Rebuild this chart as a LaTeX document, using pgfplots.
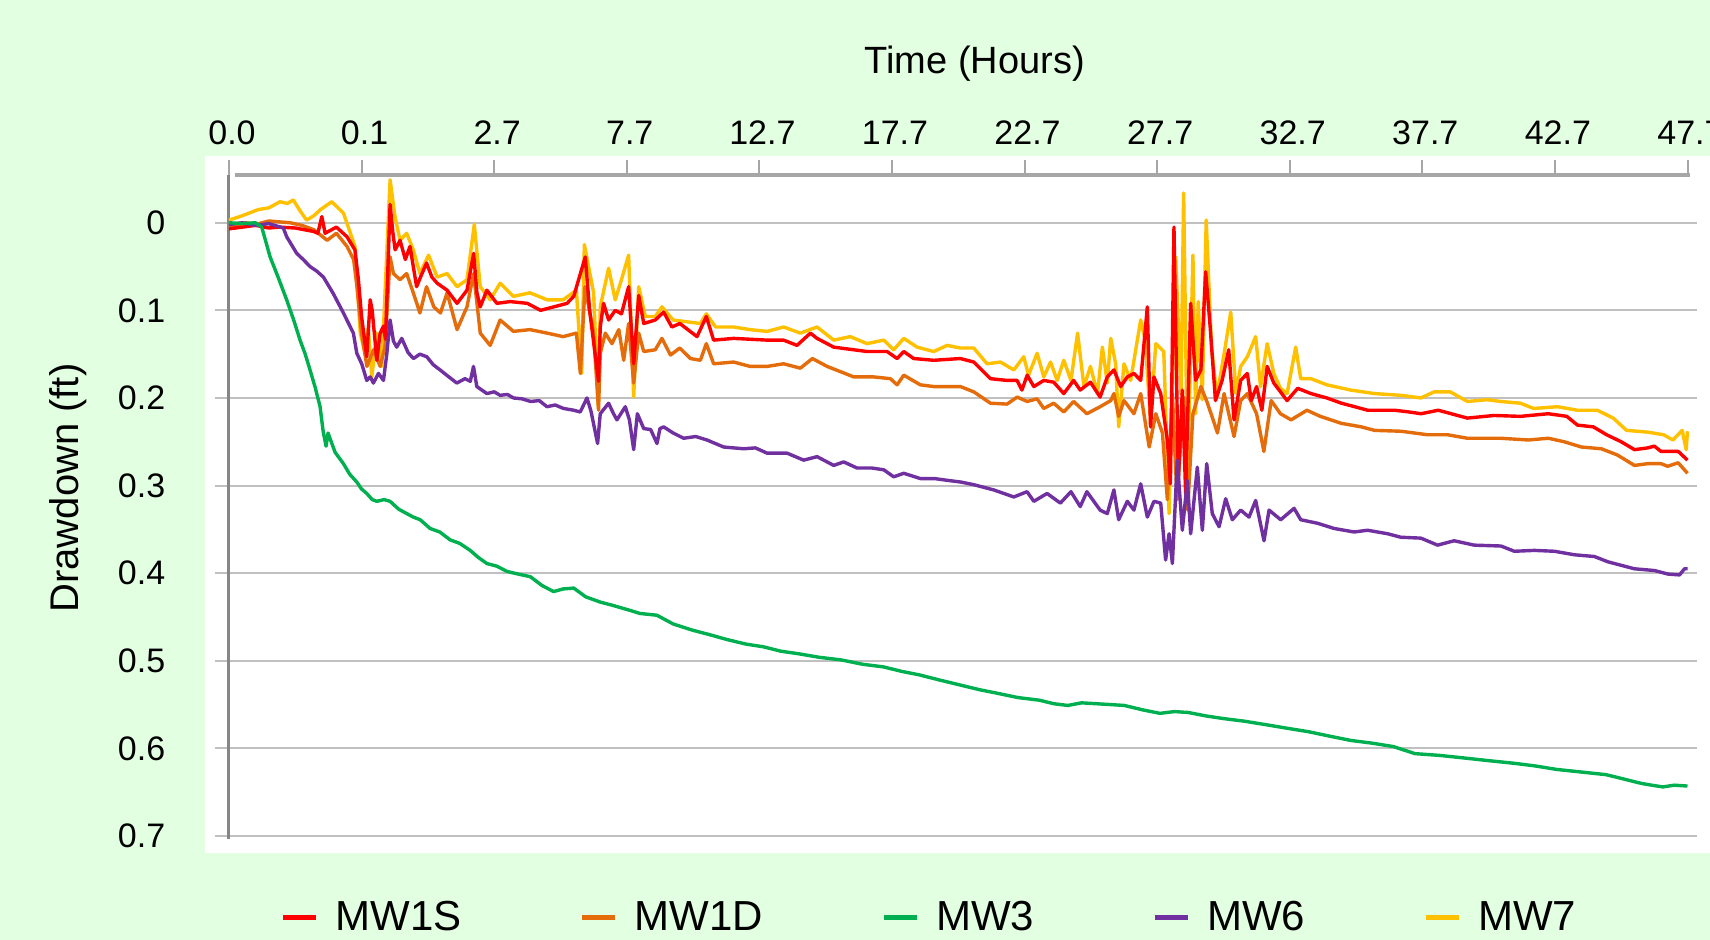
\documentclass[border=0pt]{standalone}
\usepackage{fontspec}
\setmainfont{Liberation Sans}
\usepackage{pgfplots}
\pgfplotsset{compat=1.18}
\definecolor{bgc}{RGB}{226,255,226}
\definecolor{gridc}{RGB}{192,192,192}
\definecolor{axl}{RGB}{134,134,134}
\definecolor{axt}{RGB}{166,166,166}
\definecolor{cas}{RGB}{255,0,0}
\definecolor{cad}{RGB}{228,108,10}
\definecolor{cb}{RGB}{0,176,80}
\definecolor{cc}{RGB}{112,48,160}
\definecolor{cd}{RGB}{255,192,0}
\begin{document}
\begin{tikzpicture}
\fill[bgc] (0,0) rectangle (855pt,470pt);
\fill[white] (102.5pt,43.5pt) rectangle (855pt,392pt);
\begin{axis}[
  at={(114.5pt,52pt)}, anchor=south west,
  scale only axis, width=729.25pt, height=330.5pt,
  xmin=0, xmax=11, ymin=-0.0545, ymax=0.7, y dir=reverse,
  axis line style={draw=none},
  clip=false,
  xtick={0,1,2,3,4,5,6,7,8,9,10,11},
  xticklabels={0.0,0.1,2.7,7.7,12.7,17.7,22.7,27.7,32.7,37.7,42.7,47.7},
  ytick={0,0.1,0.2,0.3,0.4,0.5,0.6,0.7},
  yticklabels={0,0.1,0.2,0.3,0.4,0.5,0.6,0.7},
  tick align=outside,
  xtick pos=right, xticklabel pos=right,
  ytick pos=left,
  major tick length=7.5pt,
  xtick style={axt, line width=1pt},
  ytick style={draw=none},
  tick label style={font=\fontsize{17pt}{20pt}\selectfont, inner sep=0pt},
  /pgf/number format/assume math mode=true,
  xticklabel style={anchor=base, yshift=7.8pt, xshift=1.5pt},
  yticklabel style={anchor=east, xshift=-24.2pt},
  xlabel={Time (Hours)},
  xlabel style={at={(axis description cs:0.5112,1.169)}, anchor=center, font=\fontsize{19pt}{23pt}\selectfont},
  ylabel={Drawdown (ft)},
  ylabel style={at={(axis description cs:-0.1104,0.5265)}, anchor=center, font=\fontsize{20pt}{24pt}\selectfont},
  legend columns=5,
  legend style={draw=none, fill=none, at={(axis description cs:0.03565,-0.1235)}, anchor=west, inner sep=0pt, outer sep=0pt,
    font=\fontsize{21pt}{25pt}\selectfont, nodes={inner sep=0pt},
    /tikz/every even column/.append style={column sep=59pt},
    /tikz/every odd column/.append style={column sep=8.5pt}},
  legend image code/.code={\draw[#1, line width=2.5pt] (0pt,0pt) -- (16.5pt,0pt);},
  every axis plot/.append style={line width=1.7pt, line join=round},
]
\pgfplotsinvokeforeach{0,0.1,0.2,0.3,0.4,0.5,0.6,0.7}{\draw[gridc, line width=1pt] (axis cs:-0.106,#1) -- (axis cs:11.07,#1);}
\draw[axt, line width=1.7pt] (axis cs:0.045,-0.0545) -- (axis cs:11.02,-0.0545);
\draw[axl, line width=1.5pt] (axis cs:0,-0.0545) -- (axis cs:0,0.703);

% MW7
\addplot[cd, forget plot] coordinates {
(0,-0.003) (0.1,-0.008) (0.22,-0.015) (0.3,-0.017) (0.385,-0.024) (0.44,-0.022) (0.485,-0.026) (0.53,-0.015) (0.585,-0.003) (0.64,-0.008) (0.69,-0.015) (0.775,-0.024) (0.863,-0.011) (0.95,0.027) (0.99,0.126) (1.026,0.149) (1.05,0.120) (1.077,0.176) (1.115,0.126) (1.152,0.164) (1.215,-0.049) (1.253,-0.006) (1.29,0.020) (1.34,0.012) (1.39,0.031) (1.44,0.058) (1.505,0.037) (1.57,0.062) (1.645,0.058) (1.72,0.073) (1.795,0.065) (1.85,0.002) (1.895,0.073) (1.97,0.088) (2.045,0.069) (2.145,0.084) (2.27,0.080) (2.40,0.088) (2.52,0.088) (2.62,0.077) (2.66,0.172) (2.68,0.025) (2.75,0.080) (2.785,0.210) (2.80,0.096) (2.863,0.052) (2.913,0.088) (2.96,0.065) (3.014,0.037) (3.052,0.199) (3.09,0.073) (3.14,0.107) (3.215,0.107) (3.265,0.096) (3.35,0.111) (3.45,0.113) (3.555,0.115) (3.60,0.104) (3.67,0.119) (3.806,0.119) (3.93,0.122) (4.058,0.124) (4.183,0.119) (4.309,0.126) (4.435,0.119) (4.561,0.134) (4.686,0.130) (4.812,0.138) (4.938,0.134) (5.013,0.145) (5.089,0.132) (5.19,0.142) (5.315,0.147) (5.416,0.140) (5.516,0.143) (5.617,0.143) (5.717,0.161) (5.818,0.159) (5.919,0.168) (5.994,0.153) (6.03,0.174) (6.095,0.149) (6.145,0.176) (6.196,0.159) (6.246,0.180) (6.296,0.157) (6.35,0.180) (6.40,0.126) (6.448,0.187) (6.497,0.164) (6.55,0.195) (6.587,0.142) (6.624,0.183) (6.65,0.132) (6.687,0.161) (6.71,0.233) (6.75,0.161) (6.80,0.180) (6.876,0.111) (6.91,0.134) (6.95,0.225) (6.99,0.138) (7.05,0.147) (7.09,0.332) (7.14,0.039) (7.18,0.195) (7.20,-0.034) (7.23,0.294) (7.27,0.037) (7.29,0.218) (7.31,0.090) (7.34,0.202) (7.37,-0.003) (7.41,0.142) (7.45,0.199) (7.51,0.145) (7.555,0.102) (7.594,0.195) (7.63,0.164) (7.68,0.153) (7.743,0.130) (7.78,0.187) (7.83,0.138) (7.88,0.172) (7.93,0.189) (7.98,0.195) (8.045,0.142) (8.083,0.178) (8.16,0.178) (8.28,0.185) (8.46,0.191) (8.64,0.195) (8.84,0.197) (8.99,0.200) (9.09,0.193) (9.21,0.193) (9.34,0.204) (9.49,0.202) (9.59,0.204) (9.74,0.206) (9.84,0.212) (10.02,0.210) (10.17,0.214) (10.32,0.214) (10.44,0.223) (10.54,0.237) (10.70,0.239) (10.82,0.242) (10.89,0.248) (10.96,0.237) (10.99,0.259) (11.0,0.238)
};
% MW1D
\addplot[cad, forget plot] coordinates {
(0,0.005) (0.13,0.0) (0.2,0.002) (0.3,-0.002) (0.46,0.0) (0.55,0.003) (0.64,0.008) (0.74,0.020) (0.81,0.012) (0.89,0.027) (0.94,0.042) (0.965,0.073) (1.00,0.126) (1.04,0.164) (1.09,0.145) (1.14,0.164) (1.177,0.141) (1.215,0.039) (1.24,0.058) (1.29,0.065) (1.34,0.058) (1.39,0.080) (1.44,0.103) (1.49,0.073) (1.545,0.096) (1.595,0.103) (1.645,0.080) (1.72,0.122) (1.795,0.096) (1.845,0.058) (1.895,0.126) (1.97,0.140) (2.045,0.111) (2.145,0.124) (2.27,0.122) (2.40,0.126) (2.52,0.130) (2.62,0.126) (2.65,0.172) (2.685,0.073) (2.75,0.126) (2.787,0.214) (2.80,0.149) (2.838,0.126) (2.888,0.138) (2.94,0.122) (2.977,0.157) (3.014,0.115) (3.052,0.183) (3.09,0.126) (3.128,0.147) (3.215,0.145) (3.265,0.132) (3.33,0.151) (3.40,0.143) (3.48,0.155) (3.555,0.157) (3.60,0.138) (3.655,0.161) (3.806,0.159) (3.93,0.164) (4.058,0.164) (4.183,0.161) (4.309,0.166) (4.40,0.155) (4.511,0.164) (4.612,0.170) (4.712,0.176) (4.863,0.176) (4.988,0.178) (5.039,0.185) (5.089,0.174) (5.214,0.185) (5.315,0.187) (5.516,0.187) (5.617,0.193) (5.743,0.206) (5.868,0.207) (5.944,0.199) (6.02,0.204) (6.095,0.201) (6.145,0.212) (6.22,0.206) (6.296,0.216) (6.37,0.204) (6.47,0.218) (6.57,0.210) (6.65,0.203) (6.674,0.195) (6.71,0.221) (6.75,0.203) (6.825,0.218) (6.876,0.195) (6.94,0.256) (6.99,0.218) (7.04,0.240) (7.077,0.316) (7.115,0.195) (7.15,0.316) (7.20,0.199) (7.23,0.328) (7.27,0.218) (7.33,0.187) (7.38,0.206) (7.455,0.240) (7.505,0.195) (7.58,0.244) (7.63,0.203) (7.68,0.195) (7.75,0.218) (7.805,0.261) (7.86,0.203) (7.93,0.218) (8.01,0.225) (8.13,0.214) (8.23,0.221) (8.39,0.229) (8.54,0.233) (8.64,0.237) (8.84,0.238) (9.04,0.242) (9.19,0.242) (9.34,0.246) (9.59,0.246) (9.80,0.248) (9.95,0.246) (10.07,0.250) (10.20,0.256) (10.35,0.258) (10.47,0.265) (10.60,0.277) (10.70,0.275) (10.80,0.275) (10.85,0.278) (10.93,0.274) (11.0,0.286)
};
% MW1S
\addplot[cas, forget plot] coordinates {
(0,0.007) (0.1,0.005) (0.2,0.003) (0.3,0.006) (0.38,0.005) (0.5,0.006) (0.64,0.010) (0.67,0.012) (0.70,-0.007) (0.725,0.012) (0.81,0.005) (0.89,0.016) (0.95,0.031) (0.976,0.065) (1.00,0.107) (1.039,0.153) (1.065,0.088) (1.08,0.100) (1.115,0.157) (1.14,0.126) (1.165,0.118) (1.18,0.133) (1.215,-0.021) (1.235,0.010) (1.253,0.031) (1.29,0.020) (1.33,0.042) (1.365,0.027) (1.415,0.073) (1.45,0.060) (1.49,0.046) (1.53,0.062) (1.57,0.069) (1.645,0.077) (1.72,0.092) (1.795,0.077) (1.845,0.035) (1.87,0.080) (1.895,0.096) (1.945,0.077) (2.02,0.092) (2.12,0.090) (2.25,0.092) (2.35,0.100) (2.45,0.096) (2.55,0.092) (2.60,0.084) (2.687,0.039) (2.72,0.100) (2.787,0.181) (2.80,0.119) (2.825,0.092) (2.863,0.111) (2.913,0.100) (2.96,0.104) (3.014,0.073) (3.052,0.161) (3.09,0.083) (3.128,0.115) (3.215,0.111) (3.278,0.102) (3.34,0.119) (3.40,0.115) (3.53,0.130) (3.60,0.107) (3.655,0.134) (3.806,0.132) (4.058,0.134) (4.183,0.134) (4.284,0.140) (4.385,0.126) (4.435,0.132) (4.561,0.142) (4.712,0.145) (4.812,0.147) (4.963,0.147) (5.039,0.155) (5.089,0.147) (5.164,0.155) (5.315,0.157) (5.516,0.155) (5.617,0.159) (5.743,0.178) (5.868,0.180) (5.944,0.180) (5.98,0.191) (6.02,0.174) (6.07,0.187) (6.145,0.180) (6.22,0.182) (6.296,0.195) (6.37,0.180) (6.42,0.191) (6.497,0.182) (6.57,0.199) (6.624,0.176) (6.674,0.168) (6.725,0.187) (6.775,0.176) (6.825,0.172) (6.876,0.180) (6.926,0.096) (6.95,0.233) (6.976,0.176) (7.027,0.195) (7.077,0.248) (7.10,0.298) (7.127,0.005) (7.16,0.294) (7.19,0.191) (7.215,0.309) (7.253,0.092) (7.29,0.180) (7.33,0.168) (7.366,0.056) (7.40,0.119) (7.44,0.203) (7.49,0.180) (7.54,0.145) (7.58,0.225) (7.63,0.180) (7.68,0.172) (7.71,0.203) (7.75,0.187) (7.79,0.214) (7.83,0.164) (7.88,0.183) (7.98,0.203) (8.06,0.189) (8.16,0.195) (8.28,0.200) (8.39,0.206) (8.49,0.210) (8.587,0.214) (8.79,0.214) (8.90,0.216) (8.99,0.218) (9.12,0.214) (9.34,0.223) (9.54,0.220) (9.74,0.221) (9.95,0.218) (10.09,0.221) (10.17,0.231) (10.29,0.233) (10.39,0.242) (10.50,0.250) (10.60,0.259) (10.70,0.257) (10.75,0.255) (10.80,0.261) (10.93,0.261) (11.0,0.271)
};
% MW6
\addplot[cc, forget plot] coordinates {
(0,0.002) (0.1,0.0) (0.2,0.003) (0.3,0.001) (0.41,0.006) (0.435,0.016) (0.511,0.035) (0.56,0.042) (0.611,0.050) (0.66,0.055) (0.712,0.062) (0.787,0.081) (0.863,0.103) (0.938,0.126) (0.964,0.149) (1.001,0.161) (1.039,0.180) (1.065,0.176) (1.089,0.183) (1.127,0.172) (1.165,0.180) (1.19,0.150) (1.215,0.111) (1.24,0.135) (1.265,0.142) (1.303,0.132) (1.35,0.148) (1.391,0.155) (1.44,0.150) (1.492,0.153) (1.54,0.162) (1.592,0.168) (1.65,0.175) (1.718,0.183) (1.78,0.178) (1.82,0.181) (1.844,0.164) (1.869,0.187) (1.945,0.195) (2.0,0.193) (2.045,0.197) (2.1,0.196) (2.145,0.200) (2.21,0.201) (2.275,0.204) (2.34,0.203) (2.398,0.210) (2.46,0.208) (2.523,0.212) (2.6,0.214) (2.649,0.216) (2.70,0.200) (2.73,0.215) (2.78,0.252) (2.80,0.218) (2.863,0.206) (2.9,0.218) (2.926,0.225) (2.989,0.210) (3.02,0.225) (3.052,0.259) (3.08,0.218) (3.128,0.235) (3.18,0.236) (3.228,0.252) (3.25,0.235) (3.278,0.233) (3.35,0.240) (3.429,0.246) (3.52,0.244) (3.605,0.248) (3.731,0.256) (3.882,0.258) (3.97,0.257) (4.058,0.263) (4.209,0.263) (4.334,0.271) (4.435,0.267) (4.561,0.277) (4.636,0.273) (4.737,0.280) (4.85,0.280) (4.938,0.282) (5.013,0.290) (5.089,0.286) (5.214,0.292) (5.32,0.292) (5.416,0.294) (5.52,0.296) (5.617,0.299) (5.768,0.305) (5.919,0.313) (6.019,0.307) (6.07,0.318) (6.17,0.309) (6.27,0.320) (6.35,0.307) (6.42,0.324) (6.47,0.307) (6.57,0.328) (6.624,0.332) (6.674,0.305) (6.71,0.339) (6.775,0.318) (6.825,0.328) (6.876,0.298) (6.926,0.336) (6.976,0.318) (7.027,0.320) (7.064,0.385) (7.09,0.355) (7.115,0.389) (7.152,0.271) (7.19,0.351) (7.228,0.294) (7.253,0.355) (7.303,0.279) (7.341,0.351) (7.374,0.275) (7.416,0.332) (7.467,0.347) (7.517,0.315) (7.567,0.339) (7.63,0.328) (7.693,0.336) (7.743,0.317) (7.806,0.363) (7.844,0.328) (7.932,0.339) (8.033,0.326) (8.083,0.339) (8.209,0.343) (8.335,0.349) (8.486,0.353) (8.587,0.351) (8.738,0.355) (8.838,0.359) (8.989,0.360) (9.115,0.368) (9.240,0.363) (9.391,0.368) (9.593,0.369) (9.694,0.375) (9.845,0.374) (9.996,0.375) (10.147,0.379) (10.298,0.381) (10.399,0.387) (10.499,0.391) (10.60,0.395) (10.751,0.397) (10.852,0.401) (10.94,0.402) (10.977,0.395) (11.0,0.395)
};
% MW3
\addplot[cb, forget plot] coordinates {
(0,0) (0.1,0.001) (0.2,0.0) (0.247,0.005) (0.31,0.039) (0.37,0.062) (0.435,0.088) (0.49,0.112) (0.536,0.134) (0.575,0.150) (0.611,0.168) (0.65,0.188) (0.687,0.210) (0.71,0.238) (0.732,0.255) (0.747,0.240) (0.80,0.262) (0.863,0.275) (0.91,0.287) (0.964,0.296) (1.00,0.304) (1.039,0.309) (1.08,0.316) (1.115,0.318) (1.17,0.316) (1.215,0.318) (1.28,0.327) (1.341,0.332) (1.39,0.336) (1.442,0.339) (1.517,0.349) (1.59,0.353) (1.668,0.362) (1.74,0.366) (1.819,0.374) (1.88,0.382) (1.945,0.389) (2.02,0.392) (2.096,0.398) (2.18,0.401) (2.272,0.404) (2.36,0.414) (2.448,0.421) (2.52,0.418) (2.60,0.417) (2.69,0.427) (2.80,0.433) (2.9,0.437) (3.014,0.442) (3.1,0.446) (3.227,0.448) (3.35,0.458) (3.494,0.465) (3.62,0.470) (3.762,0.476) (3.9,0.481) (4.029,0.484) (4.16,0.489) (4.296,0.492) (4.45,0.496) (4.616,0.499) (4.78,0.504) (4.937,0.507) (5.07,0.512) (5.204,0.516) (5.36,0.522) (5.524,0.528) (5.66,0.533) (5.792,0.537) (5.95,0.542) (6.112,0.545) (6.22,0.549) (6.326,0.551) (6.43,0.548) (6.539,0.549) (6.65,0.550) (6.753,0.551) (6.89,0.556) (7.021,0.560) (7.13,0.558) (7.234,0.559) (7.37,0.563) (7.502,0.566) (7.66,0.569) (7.822,0.573) (7.98,0.577) (8.143,0.581) (8.30,0.586) (8.463,0.591) (8.62,0.594) (8.784,0.598) (8.944,0.606) (9.13,0.608) (9.318,0.611) (9.5,0.614) (9.692,0.617) (9.85,0.620) (10.012,0.624) (10.2,0.627) (10.386,0.630) (10.52,0.635) (10.653,0.640) (10.73,0.642) (10.814,0.644) (10.9,0.642) (11.0,0.643)
};
\addlegendimage{cas}\addlegendentry{MW1S}
\addlegendimage{cad}\addlegendentry{MW1D}
\addlegendimage{cb}\addlegendentry{MW3}
\addlegendimage{cc}\addlegendentry{MW6}
\addlegendimage{cd}\addlegendentry{MW7}
\end{axis}
\pgfresetboundingbox
\useasboundingbox (0,0) rectangle (855pt,470pt);
\end{tikzpicture}
\end{document}
